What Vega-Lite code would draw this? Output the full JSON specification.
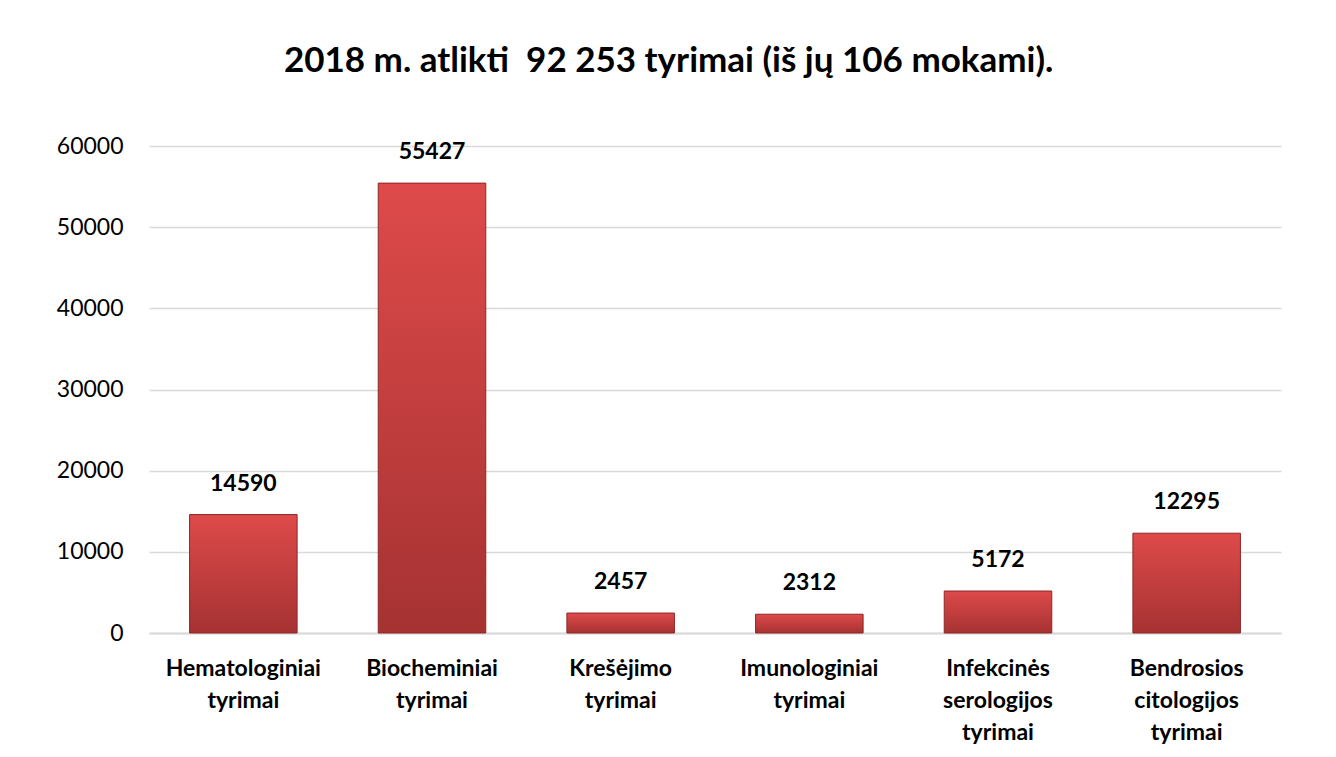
{
  "$schema": "https://vega.github.io/schema/vega-lite/v6.json",
  "autosize": {"type": "none"},
  "width": 1132,
  "height": 487,
  "padding": {"left": 149, "top": 146, "right": 55, "bottom": 124},
  "background": "#ffffff",
  "title": {
    "text": "2018 m. atlikti \u00a092 253 tyrimai (iš jų 106 mokami).",
    "font": "Lato",
    "fontSize": 35,
    "fontWeight": "bold",
    "color": "#000000",
    "anchor": "middle",
    "frame": "bounds",
    "baseline": "alphabetic",
    "offset": 28
  },
  "data": {
    "values": [
      {"kategorija": "Hematologiniai tyrimai", "tyrimai": 14590},
      {"kategorija": "Biocheminiai tyrimai", "tyrimai": 55427},
      {"kategorija": "Krešėjimo tyrimai", "tyrimai": 2457},
      {"kategorija": "Imunologiniai tyrimai", "tyrimai": 2312},
      {"kategorija": "Infekcinės serologijos tyrimai", "tyrimai": 5172},
      {"kategorija": "Bendrosios citologijos tyrimai", "tyrimai": 12295}
    ]
  },
  "encoding": {
    "x": {
      "field": "kategorija",
      "type": "nominal",
      "sort": null,
      "scale": {"paddingInner": 0.43, "paddingOuter": 0.215},
      "axis": {
        "title": null,
        "labelAngle": 0,
        "labelExpr": "split(datum.label, ' ')",
        "labelFont": "Lato",
        "labelFontSize": 23,
        "labelFontWeight": "bold",
        "labelColor": "#000000",
        "labelLineHeight": 32,
        "labelPadding": 24,
        "ticks": false,
        "domain": true,
        "domainColor": "#d9d9d9",
        "domainWidth": 2
      }
    },
    "y": {
      "field": "tyrimai",
      "type": "quantitative",
      "scale": {"domain": [0, 60000], "nice": false},
      "axis": {
        "title": null,
        "values": [0, 10000, 20000, 30000, 40000, 50000, 60000],
        "format": "d",
        "labelFont": "Lato",
        "labelFontSize": 23,
        "labelColor": "#000000",
        "labelPadding": 26,
        "ticks": false,
        "domain": false,
        "grid": true,
        "gridColor": "#d9d9d9",
        "gridWidth": 1.5
      }
    }
  },
  "layer": [
    {
      "mark": {
        "type": "bar",
        "color": {
          "gradient": "linear",
          "x1": 0, "y1": 0, "x2": 0, "y2": 1,
          "stops": [
            {"offset": 0, "color": "#de4a4a"},
            {"offset": 1, "color": "#a63232"}
          ]
        },
        "stroke": "#8e2727",
        "strokeWidth": 1
      }
    },
    {
      "mark": {
        "type": "text",
        "font": "Lato",
        "fontSize": 23,
        "fontWeight": "bold",
        "color": "#000000",
        "baseline": "alphabetic",
        "dy": -24
      },
      "encoding": {
        "text": {"field": "tyrimai", "type": "quantitative", "format": "d"}
      }
    }
  ],
  "config": {
    "view": {"stroke": null}
  }
}
